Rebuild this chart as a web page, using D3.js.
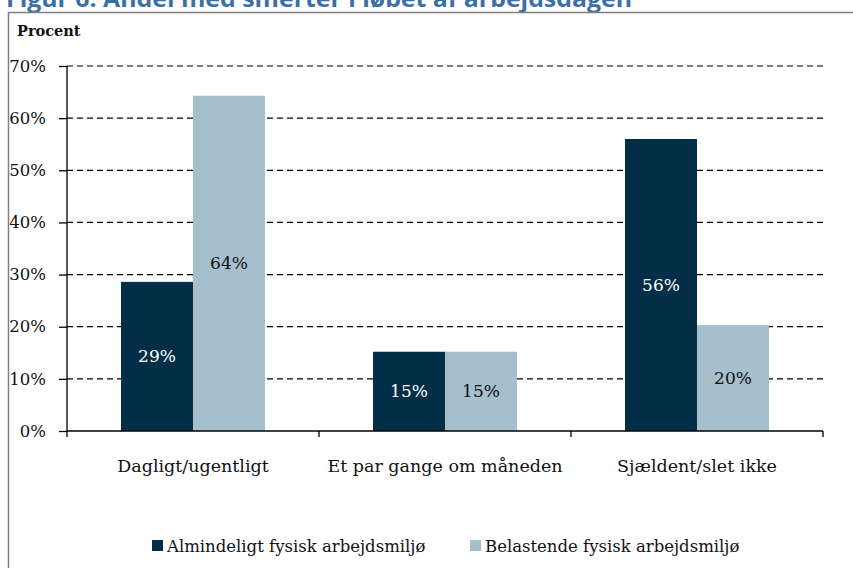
<!DOCTYPE html>
<html><head><meta charset="utf-8">
<script src="https://cdn.jsdelivr.net/npm/d3@7"></script>
<style>body{margin:0;background:#fff}svg{display:block}</style>
</head><body>
<script>
const categories = ["Dagligt/ugentligt", "Et par gange om måneden", "Sjældent/slet ikke"];
const seriesNames = ["Almindeligt fysisk arbejdsmiljø", "Belastende fysisk arbejdsmiljø"];
const almindeligt = [28.6, 15.2, 56.0];
const belastende = [64.3, 15.2, 20.3];
const valueLabels = [["29%", "15%", "56%"], ["64%", "15%", "20%"]];
const yTicks = [0, 10, 20, 30, 40, 50, 60, 70];
const colors = ["#022E48", "#A5BFCD"];
const labelColors = ["#ffffff", "#111111"];

const W = 853, H = 568;
const svg = d3.select("body").append("svg").attr("width", W).attr("height", H);
const serif = "'DejaVu Serif', serif";

// cropped title (cut off by the top edge in the reference)
svg.append("text").attr("x", 6).attr("y", 7)
  .attr("font-family", "'Open Sans', sans-serif").attr("font-weight", "bold")
  .attr("font-size", 24).attr("fill", "#3C6FA6")
  .attr("textLength", 626).attr("lengthAdjust", "spacingAndGlyphs")
  .text("Figur 6. Andel med smerter i løbet af arbejdsdagen");

// frame
svg.append("rect").attr("x", 8.5).attr("y", 12.5).attr("width", 870).attr("height", 600)
  .attr("fill", "#fff").attr("stroke", "#808080").attr("stroke-width", 1.5);

const m = {l: 67, r: 823, t: 66, b: 431};
const x = d3.scaleBand().domain(categories).range([m.l, m.r]);
const x1 = d3.scaleBand().domain([0, 1]).range([0, 144]);
const y = d3.scaleLinear().domain([0, 70]).range([m.b, m.t]);

svg.append("text").attr("x", 17).attr("y", 36)
  .attr("font-family", serif).attr("font-weight", "bold").attr("font-size", 14.5)
  .attr("fill", "#111")
  .text("Procent");

// gridlines
svg.append("g").selectAll("line").data(yTicks.filter(d => d > 0)).join("line")
  .attr("x1", m.l).attr("x2", m.r).attr("y1", d => y(d)).attr("y2", d => y(d))
  .attr("stroke", "#000").attr("stroke-width", 1.2).attr("stroke-dasharray", "6,4");

const series = [almindeligt, belastende];
series.forEach((vals, si) => {
  const g = svg.append("g");
  g.selectAll("rect").data(vals).join("rect")
    .attr("x", (d, i) => x(categories[i]) + x.bandwidth() / 2 - 72 + x1(si))
    .attr("width", x1.bandwidth())
    .attr("y", d => y(d)).attr("height", d => y(0) - y(d))
    .attr("fill", colors[si]);
  g.selectAll("text").data(vals).join("text")
    .attr("x", (d, i) => x(categories[i]) + x.bandwidth() / 2 - 72 + x1(si) + x1.bandwidth() / 2)
    .attr("y", d => (y(d) + y(0)) / 2 + 6)
    .attr("text-anchor", "middle").attr("font-family", serif).attr("font-size", 17)
    .attr("fill", labelColors[si])
    .text((d, i) => valueLabels[si][i]);
});

// y axis
const yAxis = svg.append("g").attr("transform", `translate(${m.l},0)`)
  .call(d3.axisLeft(y).tickValues(yTicks).tickFormat(d => d + "%").tickSize(8).tickPadding(13));
yAxis.select(".domain").attr("stroke", "#000").attr("stroke-width", 1.3).attr("d", `M0,${m.t}V${m.b}`);
yAxis.selectAll(".tick line").attr("stroke", "#000").attr("stroke-width", 1.3);
yAxis.selectAll("text").attr("font-family", serif).attr("font-size", 16.5).attr("fill", "#111");

// x axis
const xAxis = svg.append("g").attr("transform", `translate(0,${m.b})`);
xAxis.append("line").attr("x1", m.l).attr("x2", m.r).attr("stroke", "#000").attr("stroke-width", 1.3);
const bounds = categories.map(c => x(c)).concat([m.r]);
xAxis.selectAll(".tk").data(bounds).join("line").attr("class", "tk")
  .attr("x1", d => d).attr("x2", d => d).attr("y1", 0).attr("y2", 6)
  .attr("stroke", "#000").attr("stroke-width", 1.3);
xAxis.selectAll("text").data(categories).join("text")
  .attr("x", d => x(d) + x.bandwidth() / 2).attr("y", 41)
  .attr("text-anchor", "middle").attr("font-family", serif).attr("font-size", 17.5).attr("fill", "#111")
  .text(d => d);

// legend
const legX = [152, 470];
seriesNames.forEach((n, i) => {
  svg.append("rect").attr("x", legX[i]).attr("y", 540).attr("width", 11).attr("height", 11).attr("fill", colors[i]);
  svg.append("text").attr("x", legX[i] + 15).attr("y", 552)
    .attr("font-family", serif).attr("font-size", 16.5).attr("fill", "#111").text(n);
});
</script>
</body></html>
